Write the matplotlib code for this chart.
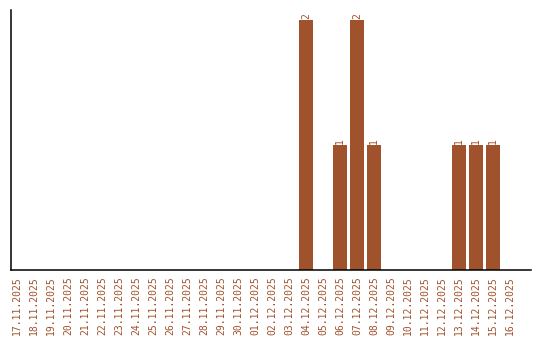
import matplotlib
matplotlib.use("Agg")
import matplotlib.pyplot as plt

# daily counts, 17.11.2025 - 16.12.2025
dates = ["17.11.2025", "18.11.2025", "19.11.2025", "20.11.2025", "21.11.2025",
         "22.11.2025", "23.11.2025", "24.11.2025", "25.11.2025", "26.11.2025",
         "27.11.2025", "28.11.2025", "29.11.2025", "30.11.2025", "01.12.2025",
         "02.12.2025", "03.12.2025", "04.12.2025", "05.12.2025", "06.12.2025",
         "07.12.2025", "08.12.2025", "09.12.2025", "10.12.2025", "11.12.2025",
         "12.12.2025", "13.12.2025", "14.12.2025", "15.12.2025", "16.12.2025"]
counts = [0, 0, 0, 0, 0, 0, 0, 0, 0, 0,
          0, 0, 0, 0, 0, 0, 0, 2, 0, 1,
          2, 1, 0, 0, 0, 0, 1, 1, 1, 0]

bar_color = "#a0522d"
font = "DejaVu Sans Mono"

fig = plt.figure(figsize=(5.4, 3.4), dpi=100)
ax = fig.add_axes([10.5 / 540, 70 / 340, 520 / 540, 260 / 340])

x = list(range(len(dates)))
ax.bar(x, counts, width=0.82, color=bar_color)

for xi, c in zip(x, counts):
    if c > 0:
        ax.text(xi, c + 0.012, str(c), rotation=90, ha="center", va="bottom",
                fontsize=7, family=font, color=bar_color)

ax.set_xlim(-0.38, 30.2)
ax.set_ylim(0, 2.08)
ax.set_xticks(x)
ax.set_xticklabels(dates, rotation=90, fontsize=7, family=font, color=bar_color)
ax.tick_params(axis="x", length=0, pad=4.5)
ax.set_yticks([])

for s in ["top", "right"]:
    ax.spines[s].set_visible(False)
ax.spines["left"].set_linewidth(1.1)
ax.spines["bottom"].set_linewidth(1.1)

fig.savefig("out.png", dpi=100)
